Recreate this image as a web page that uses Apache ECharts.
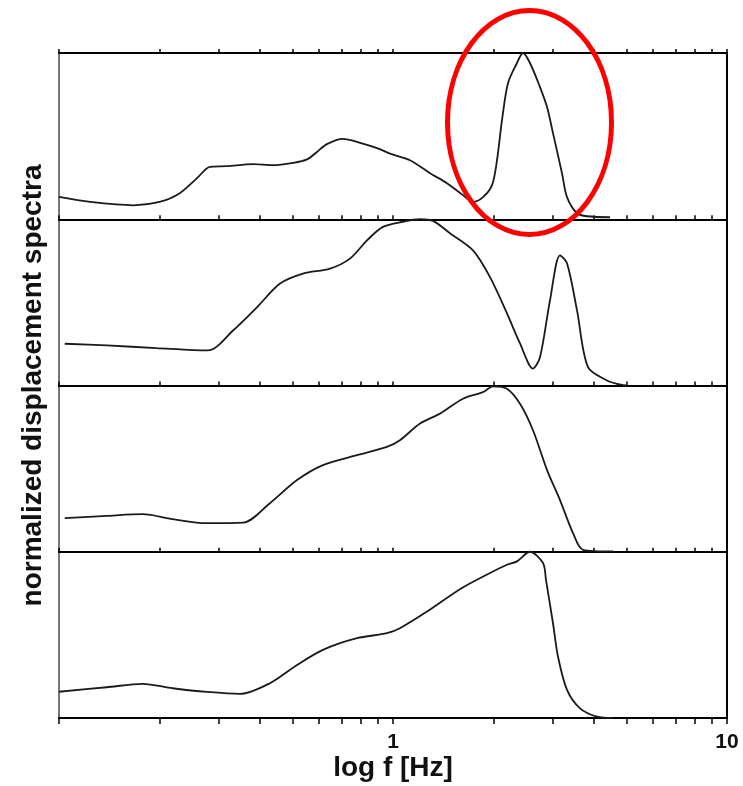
<!DOCTYPE html>
<html><head><meta charset="utf-8">
<script src="https://cdn.jsdelivr.net/npm/echarts@6/dist/echarts.min.js"></script>
<style>html,body{margin:0;padding:0;background:#fff}#c{width:743px;height:786px}</style>
</head><body><div id="c"></div>
<script>
// ---- data (frequency in Hz, normalized spectral amplitude) ----
const freq1 = [0.1, 0.124, 0.167, 0.200, 0.230, 0.259, 0.283, 0.318, 0.381, 0.437, 0.502, 0.553, 0.592, 0.634, 0.708, 0.797, 0.896, 0.980, 1.124, 1.291, 1.451, 1.620, 1.736, 1.860, 1.979, 2.048, 2.120, 2.210, 2.351, 2.450, 2.571, 2.755, 2.892, 3.013, 3.206, 3.319, 3.556, 3.810, 4.464];
const spec1 = [0.134, 0.104, 0.084, 0.104, 0.157, 0.247, 0.315, 0.319, 0.331, 0.325, 0.339, 0.360, 0.405, 0.452, 0.484, 0.460, 0.428, 0.395, 0.355, 0.277, 0.217, 0.145, 0.104, 0.133, 0.205, 0.355, 0.596, 0.819, 0.940, 1.0, 0.940, 0.795, 0.675, 0.518, 0.277, 0.133, 0.036, 0.018, 0.012];

const freq2 = [0.104, 0.139, 0.196, 0.279, 0.332, 0.392, 0.459, 0.538, 0.648, 0.743, 0.836, 0.933, 1.071, 1.205, 1.318, 1.481, 1.736, 1.952, 2.194, 2.400, 2.625, 2.755, 2.952, 3.162, 3.319, 3.556, 3.837, 4.373, 4.684, 5.0];
const spec2 = [0.251, 0.241, 0.225, 0.211, 0.331, 0.472, 0.613, 0.673, 0.703, 0.763, 0.873, 0.954, 0.985, 1.0, 0.99, 0.916, 0.813, 0.652, 0.434, 0.253, 0.102, 0.170, 0.512, 0.783, 0.735, 0.452, 0.110, 0.030, 0.010, 0.0];

const freq3 = [0.104, 0.139, 0.178, 0.219, 0.277, 0.356, 0.428, 0.516, 0.617, 0.780, 0.959, 1.049, 1.205, 1.383, 1.620, 1.860, 1.993, 2.194, 2.400, 2.625, 2.892, 3.162, 3.459, 3.707, 4.557];
const spec3 = [0.202, 0.216, 0.226, 0.196, 0.172, 0.175, 0.292, 0.431, 0.521, 0.581, 0.631, 0.671, 0.771, 0.831, 0.920, 0.960, 0.995, 0.980, 0.890, 0.731, 0.491, 0.311, 0.112, 0.012, 0.002];

const freq4 = [0.1, 0.139, 0.178, 0.219, 0.277, 0.348, 0.428, 0.516, 0.617, 0.780, 0.959, 1.049, 1.264, 1.587, 1.952, 2.194, 2.351, 2.571, 2.813, 2.871, 3.013, 3.119, 3.319, 3.631, 4.082, 4.557];
const spec4 = [0.158, 0.185, 0.205, 0.179, 0.157, 0.145, 0.209, 0.319, 0.410, 0.480, 0.510, 0.540, 0.640, 0.775, 0.872, 0.922, 0.942, 1.0, 0.932, 0.831, 0.570, 0.369, 0.169, 0.058, 0.008, 0.0];

const tickValues = [0.1, 0.2, 0.3, 0.4, 0.5, 0.6, 0.7, 0.8, 0.9, 1, 2, 3, 4, 5, 6, 7, 8, 9, 10];
const labelValues = [1, 10];
const xTitle = 'log f [Hz]';
const yTitle = 'normalized displacement spectra';

// ---- layout ----
const FONT = 'Liberation Sans, Arial, Helvetica, sans-serif';
const L = 59, R = 743 - 727, TOP = 53, BOTTOM = 718;
const PH = (BOTTOM - TOP) / 4;
const freqs = [freq1, freq2, freq3, freq4];
const specs = [spec1, spec2, spec3, spec4];

const grid = [], xAxis = [], yAxis = [], series = [];
for (let i = 0; i < 4; i++) {
  grid.push({left: L, right: R, top: TOP + i * PH, height: PH});
  const base = {type: 'log', logBase: 10, min: 0.1, max: 10, gridIndex: i, splitLine: {show: false},
    axisLine: {show: true, onZero: false, lineStyle: {color: '#000', width: 2}}};
  xAxis.push(Object.assign({}, base, {position: 'top',
    axisTick: {show: true, inside: false, length: 4, customValues: tickValues, lineStyle: {color: '#000', width: 1.5}},
    axisLabel: {show: false}}));
  if (i < 3) {
    xAxis.push(Object.assign({}, base, {position: 'bottom', axisTick: {show: false}, axisLabel: {show: false}}));
  } else {
    xAxis.push(Object.assign({}, base, {position: 'bottom',
      axisTick: {show: true, inside: false, length: 6, customValues: tickValues, lineStyle: {color: '#000', width: 1.5}},
      axisLabel: {show: true, customValues: labelValues, fontSize: 21, fontWeight: 'bold', fontFamily: FONT, color: '#111', margin: 14},
      name: xTitle, nameLocation: 'middle', nameGap: 34,
      nameTextStyle: {fontSize: 28, fontWeight: 'bold', fontFamily: FONT, color: '#111'}}));
  }
  yAxis.push({type: 'value', min: 0, max: 1, gridIndex: i, show: false});
  series.push({type: 'line', xAxisIndex: 2 * i, yAxisIndex: i, showSymbol: false, smooth: 0.3,
    clip: false, silent: true,
    lineStyle: {color: '#1a1a1a', width: 1.8},
    data: freqs[i].map((f, k) => [f, specs[i][k]])});
}
// full frame grid for the side lines and y title
grid.push({left: L, right: R, top: TOP, height: BOTTOM - TOP});
xAxis.push({type: 'value', gridIndex: 4, show: false, min: 0, max: 1});
yAxis.push({type: 'value', gridIndex: 4, position: 'left', min: 0, max: 1,
  axisLine: {show: true, onZero: false, lineStyle: {color: '#777', width: 2}}, axisTick: {show: false}, axisLabel: {show: false}, splitLine: {show: false},
  name: yTitle, nameLocation: 'middle', nameGap: 12, nameRotate: 90,
  nameTextStyle: {fontSize: 28, fontWeight: 'bold', fontFamily: FONT, color: '#111'}});
yAxis.push({type: 'value', gridIndex: 4, position: 'right', min: 0, max: 1,
  axisLine: {show: true, onZero: false, lineStyle: {color: '#000', width: 2}}, axisTick: {show: false}, axisLabel: {show: false}, splitLine: {show: false}});

const chart = echarts.init(document.getElementById('c'), null, {renderer: 'canvas'});
chart.setOption({
  animation: false,
  backgroundColor: '#fff',
  grid, xAxis, yAxis, series,
  graphic: [{type: 'ellipse', z: 100, shape: {cx: 529.5, cy: 122.5, rx: 82, ry: 112},
    style: {fill: null, stroke: '#ff0000', lineWidth: 5}}]
});
</script></body></html>
